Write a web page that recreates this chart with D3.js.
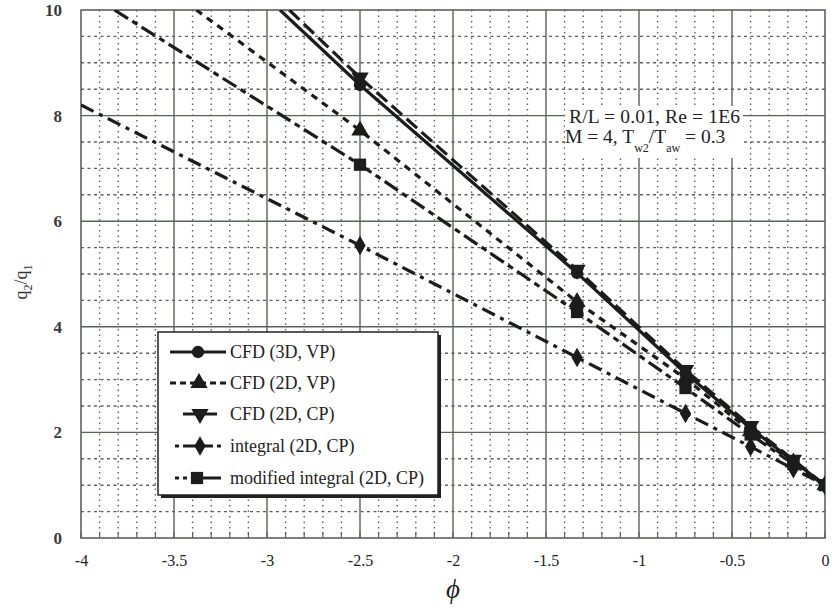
<!DOCTYPE html>
<html>
<head>
<meta charset="utf-8">
<script src="https://cdn.jsdelivr.net/npm/d3@7"></script>
<style>
  html, body { margin: 0; padding: 0; background: #ffffff; }
  svg { display: block; }
  svg text { font-family: "Liberation Serif", "Times New Roman", serif; }
</style>
</head>
<body>
<svg id="chart" width="832" height="610"></svg>
<script>
// ---------------- data ----------------
const xTickValues = [-4, -3.5, -3, -2.5, -2, -1.5, -1, -0.5, 0];
const xTickLabels = ["-4", "-3.5", "-3", "-2.5", "-2", "-1.5", "-1", "-0.5", "0"];
const yTickValues = [0, 2, 4, 6, 8, 10];
const yTickLabels = ["0", "2", "4", "6", "8", "10"];

const markerPhi = [-2.5, -1.333, -0.75, -0.4, -0.17, 0];

const phiCFD3DVP = [-2.93, -2.5, -1.333, -0.75, -0.4, -0.17, 0];
const qCFD3DVP   = [10, 8.58, 5.02, 3.12, 2.08, 1.46, 1.0];

const phiCFD2DVP = [-3.38, -2.5, -1.333, -0.75, -0.4, -0.17, 0];
const qCFD2DVP   = [10, 7.72, 4.47, 3.02, 2.02, 1.43, 1.0];

const phiCFD2DCP = [-2.88, -2.5, -1.333, -0.75, -0.4, -0.17, 0];
const qCFD2DCP   = [10, 8.72, 5.08, 3.18, 2.12, 1.48, 1.0];

const phiIntegral = [-4, -2.5, -1.333, -0.75, -0.4, -0.17, 0];
const qIntegral   = [8.2, 5.54, 3.42, 2.36, 1.73, 1.31, 1.0];

const phiModInt = [-3.82, -2.5, -1.333, -0.75, -0.4, -0.17, 0];
const qModInt   = [10, 7.07, 4.28, 2.84, 1.96, 1.40, 1.0];

const seriesNames = ["CFD (3D, VP)", "CFD (2D, VP)", "CFD (2D, CP)", "integral (2D, CP)", "modified integral (2D, CP)"];

// ---------------- build ----------------
const FONT = "'Liberation Serif', 'Times New Roman', serif";
const series = [
  { name: seriesNames[0], phi: phiCFD3DVP, q: qCFD3DVP, dash: null, marker: "circle" },
  { name: seriesNames[1], phi: phiCFD2DVP, q: qCFD2DVP, dash: "7,6", marker: "triUp" },
  { name: seriesNames[2], phi: phiCFD2DCP, q: qCFD2DCP, dash: "14,6", marker: "triDown" },
  { name: seriesNames[3], phi: phiIntegral, q: qIntegral, dash: "14,6,4,6", marker: "diamond" },
  { name: seriesNames[4], phi: phiModInt, q: qModInt, dash: "16,5,6,5", marker: "square" }
].map(s => ({ ...s, pts: s.phi.map((p, i) => ({ phi: p, q: s.q[i] })) }));

const svg = d3.select("#chart");
const L = 81, R = 825, T = 10, B = 538;
const x = d3.scaleLinear().domain([-4, 0]).range([L, R]);
const y = d3.scaleLinear().domain([0, 10]).range([B, T]);

const gridMajor = "#556655";
const gridMinor = "#5a615a";
const ink = "#1c1c1c";

// minor grid
const minorX = d3.range(-39, 0).map(i => i / 10).filter(v => Math.abs(v * 2 - Math.round(v * 2)) > 1e-6);
const minorY = d3.range(1, 20).map(i => i / 2).filter(v => v % 2 !== 0);
svg.append("g").selectAll("line").data(minorX).join("line")
  .attr("x1", d => x(d)).attr("x2", d => x(d)).attr("y1", T).attr("y2", B)
  .attr("stroke", gridMinor).attr("stroke-width", 1.4).attr("stroke-dasharray", "1.5,4");
svg.append("g").selectAll("line").data(minorY).join("line")
  .attr("y1", d => y(d)).attr("y2", d => y(d)).attr("x1", L).attr("x2", R)
  .attr("stroke", gridMinor).attr("stroke-width", 1.4).attr("stroke-dasharray", "3,3.5");

// major grid
svg.append("g").selectAll("line").data(xTickValues.slice(1, -1)).join("line")
  .attr("x1", d => x(d)).attr("x2", d => x(d)).attr("y1", T).attr("y2", B)
  .attr("stroke", gridMajor).attr("stroke-width", 1.4);
svg.append("g").selectAll("line").data(yTickValues.slice(1, -1)).join("line")
  .attr("y1", d => y(d)).attr("y2", d => y(d)).attr("x1", L).attr("x2", R)
  .attr("stroke", gridMajor).attr("stroke-width", 1.4);

// frame
svg.append("rect").attr("x", L).attr("y", T).attr("width", R - L).attr("height", B - T)
  .attr("fill", "none").attr("stroke", gridMajor).attr("stroke-width", 1.6);

// minor ticks on bottom axis (inside)
const allXt = d3.range(-40, 1).map(i => i / 10);
svg.append("g").selectAll("line").data(allXt).join("line")
  .attr("x1", d => x(d)).attr("x2", d => x(d)).attr("y1", B).attr("y2", B - 6)
  .attr("stroke", gridMajor).attr("stroke-width", 1.2);

// axes labels via d3 axes
const xAxis = d3.axisBottom(x).tickValues(xTickValues).tickSize(0).tickPadding(17)
  .tickFormat((d, i) => xTickLabels[i]);
const gx = svg.append("g").attr("transform", `translate(0,${B})`).call(xAxis)
  .attr("font-family", FONT);
gx.select(".domain").remove();
gx.selectAll("text").attr("font-family", FONT).attr("font-size", 16).attr("fill", "#222");

const yAxis = d3.axisLeft(y).tickValues(yTickValues).tickSize(0).tickPadding(19)
  .tickFormat((d, i) => yTickLabels[i]);
const gy = svg.append("g").attr("transform", `translate(${L},0)`).call(yAxis)
  .attr("font-family", FONT);
gy.select(".domain").remove();
gy.selectAll("text").attr("font-family", FONT).attr("font-size", 17)
  .attr("font-weight", "bold").attr("fill", "#3a3a3a");

// axis titles
svg.append("text").attr("x", x(-2)).attr("y", 598).attr("text-anchor", "middle")
  .attr("font-family", FONT).attr("font-size", 27).attr("font-style", "italic").attr("fill", "#222").text("\u03D5");

const yt = svg.append("text").attr("transform", "translate(27,282) rotate(-90)")
  .attr("text-anchor", "middle").attr("font-family", FONT).attr("font-size", 18).attr("fill", "#333");
yt.append("tspan").text("q");
yt.append("tspan").attr("font-size", 12).attr("dy", 5).text("2");
yt.append("tspan").attr("dy", -5).text("/q");
yt.append("tspan").attr("font-size", 12).attr("dy", 5).text("1");

// clip
svg.append("clipPath").attr("id", "clip").append("rect")
  .attr("x", L).attr("y", T).attr("width", R - L).attr("height", B - T);

const line = d3.line().x(d => x(d.phi)).y(d => y(d.q));
const plot = svg.append("g").attr("clip-path", "url(#clip)");

const symbols = {
  circle: d3.symbol().type(d3.symbolCircle).size(120),
  triUp: d3.symbol().type(d3.symbolTriangle).size(130),
  triDown: d3.symbol().type(d3.symbolTriangle).size(130),
  diamond: d3.symbol().type(d3.symbolDiamond).size(110),
  square: d3.symbol().type(d3.symbolSquare).size(150)
};
function drawMarker(g, kind, cx, cy) {
  const rot = kind === "triDown" ? " rotate(180)" : "";
  g.append("path").attr("d", symbols[kind]()).attr("transform", `translate(${cx},${cy})${rot}`)
    .attr("fill", ink);
}

// draw lines in back-to-front order
const order = [3, 4, 1, 0, 2];
order.forEach(k => {
  const s = series[k];
  plot.append("path").datum(s.pts).attr("d", line)
    .attr("fill", "none").attr("stroke", ink).attr("stroke-width", 3.2)
    .attr("stroke-dasharray", s.dash).attr("stroke-linecap", "butt");
});
order.forEach(k => {
  const s = series[k];
  const mg = plot.append("g");
  s.pts.filter(p => markerPhi.includes(p.phi)).forEach(p => drawMarker(mg, s.marker, x(p.phi), y(p.q)));
});

// legend
const lg = svg.append("g");
const lx = 158, ly = 332, lw = 280, lh = 163;
lg.append("rect").attr("x", lx + 3).attr("y", ly + 3).attr("width", lw).attr("height", lh).attr("fill", "#222");
lg.append("rect").attr("x", lx).attr("y", ly).attr("width", lw).attr("height", lh)
  .attr("fill", "#ffffff").attr("stroke", "#222").attr("stroke-width", 1.5);
const rowY = [352, 383, 414, 446, 478];
series.forEach((s, i) => {
  const yy = rowY[i];
  const g = lg.append("g");
  if (i === 0) {
    g.append("line").attr("x1", 170).attr("x2", 226).attr("y1", yy).attr("y2", yy)
      .attr("stroke", ink).attr("stroke-width", 3);
  } else if (i === 1) {
    g.append("line").attr("x1", 170).attr("x2", 228).attr("y1", yy).attr("y2", yy)
      .attr("stroke", ink).attr("stroke-width", 3).attr("stroke-dasharray", "6,4");
  } else if (i === 2) {
    g.append("line").attr("x1", 183).attr("x2", 223).attr("y1", yy).attr("y2", yy)
      .attr("stroke", ink).attr("stroke-width", 3).attr("stroke-dasharray", "13,8,13");
  } else if (i === 3) {
    g.append("line").attr("x1", 175).attr("x2", 222).attr("y1", yy).attr("y2", yy)
      .attr("stroke", ink).attr("stroke-width", 3).attr("stroke-dasharray", "4,4,30,4");
  } else {
    g.append("line").attr("x1", 175).attr("x2", 222).attr("y1", yy).attr("y2", yy)
      .attr("stroke", ink).attr("stroke-width", 3).attr("stroke-dasharray", "4,4,4,4,30");
  }
  const mx = i === 0 ? 198 : i === 1 ? 199 : i === 2 ? 200 : i === 3 ? 200 : 197;
  drawMarker(g, s.marker, mx, yy);
  g.append("text").attr("x", 230).attr("y", yy + 6).attr("font-family", FONT)
    .attr("font-size", 18).attr("fill", "#222").text(s.name);
});

// annotation
const ag = svg.append("g");
ag.append("rect").attr("x", 565).attr("y", 106).attr("width", 178).attr("height", 52).attr("fill", "#ffffff");
ag.append("text").attr("x", 569).attr("y", 123).attr("font-family", FONT).attr("font-size", 19.5)
  .attr("fill", "#222").attr("textLength", 171).text("R/L = 0.01, Re = 1E6");
const a2 = ag.append("text").attr("x", 565).attr("y", 143).attr("font-family", FONT)
  .attr("font-size", 19.5).attr("fill", "#222");
a2.append("tspan").text("M = 4, T");
a2.append("tspan").attr("font-size", 12).attr("dy", 9).text("w2");
a2.append("tspan").attr("dy", -9).text("/T");
a2.append("tspan").attr("font-size", 12).attr("dy", 9).text("aw");
a2.append("tspan").attr("dy", -9).text(" = 0.3");
</script>
</body>
</html>
